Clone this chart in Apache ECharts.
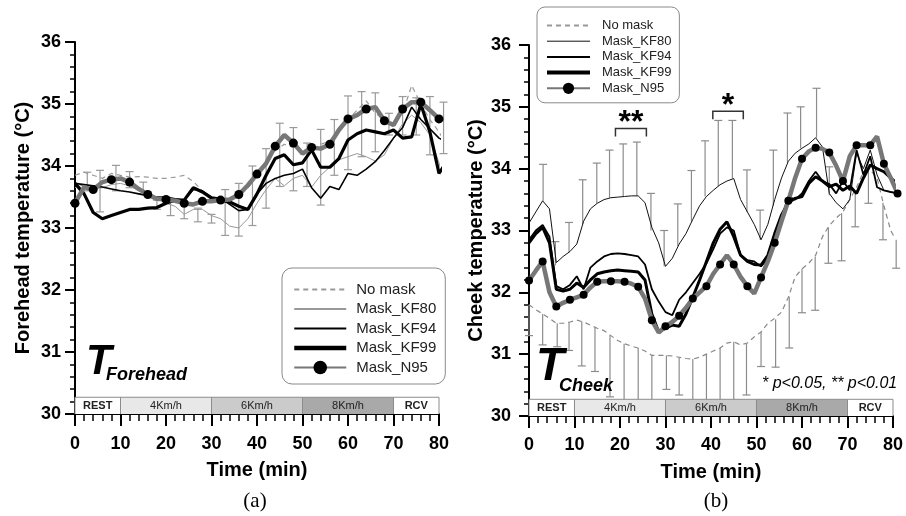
<!DOCTYPE html>
<html>
<head>
<meta charset="utf-8">
<script src="https://cdn.jsdelivr.net/npm/echarts@6/dist/echarts.min.js"></script>
<style>
html, body { margin: 0; padding: 0; background: #fff; }
#main { width: 906px; height: 516px; }
</style>
</head>
<body>
<div id="main"></div>
<script>
// two panels: (a) forehead, (b) cheek temperature vs time
var chart = echarts.init(document.getElementById('main'));
var FONT = 'Arial, "Liberation Sans", sans-serif';

// ---------- data, panel (a) : every 2 min ----------
var timeA = [0,2,4,6,8,10,12,14,16,18,20,22,24,26,28,30,32,34,36,38,40,42,44,46,48,50,52,54,56,58,60,62,64,66,68,70,72,74,76,78,80,82];
var noMaskA = [33.85,33.9,33.85,33.8,33.88,33.85,33.82,33.83,33.82,33.8,33.8,33.82,33.85,33.75,33.6,33.5,33.45,33.45,33.5,33.65,33.85,34.05,34.25,34.35,34.3,34.2,34.25,34.35,34.4,34.6,34.75,34.9,35.05,34.85,34.75,34.7,34.85,35.3,35.0,34.75,34.55,34.3];
var kf80A = [33.65,33.7,33.62,33.65,33.7,33.72,33.68,33.6,33.55,33.48,33.4,33.35,33.22,33.3,33.3,33.2,33.15,33.03,33.0,33.15,33.4,33.62,33.8,33.68,33.8,33.85,33.66,33.85,33.98,34.1,34.15,34.2,34.15,34.08,34.18,34.45,34.68,34.82,34.7,34.5,34.05,33.5];
var kf94A = [33.72,33.7,33.68,33.66,33.63,33.6,33.58,33.55,33.52,33.5,33.5,33.47,33.45,33.62,33.6,33.5,33.48,33.38,33.28,33.3,33.55,33.72,33.8,33.85,33.88,33.95,33.65,33.48,33.67,33.62,33.88,33.85,33.95,34.07,34.25,34.45,34.62,34.95,34.75,34.6,34.45,34.38];
var kf99A = [33.72,33.55,33.25,33.15,33.2,33.25,33.3,33.3,33.32,33.33,33.4,33.45,33.45,33.65,33.58,33.48,33.45,33.42,33.35,33.3,33.55,33.85,34.12,34.18,34.02,34.05,34.26,33.98,33.98,34.12,34.42,34.52,34.58,34.55,34.52,34.58,34.45,34.47,35.0,34.55,33.88,34.1];
var n95A = [33.4,33.66,33.62,33.74,33.78,33.8,33.74,33.63,33.54,33.47,33.46,33.44,33.4,33.38,33.43,33.43,33.45,33.46,33.54,33.69,33.87,34.04,34.32,34.5,34.37,34.2,34.3,34.28,34.35,34.58,34.76,34.82,34.92,34.95,34.73,34.66,34.92,35.03,35.03,34.9,34.76,34.8];
// error bars (a): low / high ends
var errTimeA = [2.7,5.5,9,12,15,18,21,24,27,30,33,36,39,42,45,48,51,54,57,60,63,66,69,72,75,78,81];
var errLowA  = [33.6,33.26,33.6,33.65,33.55,33.3,33.2,33.15,33.1,33.08,32.88,32.87,33.04,33.32,33.67,33.6,33.67,33.37,33.85,33.94,34.15,34.23,34.5,34.5,34.5,34.18,34.2];
var errHighA = [33.9,33.93,34.01,33.91,33.74,33.45,33.42,33.38,33.32,33.22,33.62,33.72,34.0,34.28,34.69,34.62,34.37,34.59,34.75,35.13,35.2,35.18,34.85,35.12,35.1,35.12,35.03];

// ---------- data, panel (b) : every 1.5 min ----------
var timeB = [0,1.5,3,4.5,6,7.5,9,10.5,12,13.5,15,16.5,18,19.5,21,22.5,24,25.5,27,28.5,30,31.5,33,34.5,36,37.5,39,40.5,42,43.5,45,46.5,48,49.5,51,52.5,54,55.5,57,58.5,60,61.5,63,64.5,66,67.5,69,70.5,72,73.5,75,76.5,78,79.5,81];
var noMaskB = [31.8,31.72,31.65,31.58,31.5,31.5,31.52,31.55,31.52,31.47,31.42,31.38,31.3,31.22,31.17,31.13,31.1,31.05,30.98,30.98,30.98,30.97,30.95,30.93,30.92,30.95,31.0,31.05,31.1,31.18,31.2,31.15,31.18,31.28,31.36,31.5,31.58,31.68,31.92,32.25,32.38,32.47,32.6,32.9,33.08,33.2,33.3,33.5,33.7,33.95,33.98,33.85,33.4,33.0,32.8];
var kf80B = [33.12,33.3,33.48,33.35,32.48,32.58,32.66,32.78,33.15,33.35,33.44,33.5,33.53,33.54,33.55,33.56,33.56,33.45,33.05,32.8,32.42,32.55,32.78,32.95,33.18,33.4,33.55,33.65,33.74,33.8,33.84,33.5,33.3,33.1,32.85,33.1,33.5,33.85,34.12,34.25,34.33,34.4,34.5,34.35,33.6,33.45,33.35,33.5,34.25,34.0,34.3,33.9,33.65,33.63,33.6];
var kf94B = [32.85,33.0,33.09,32.9,32.1,32.05,32.12,32.26,32.05,32.4,32.5,32.58,32.62,32.63,32.62,32.6,32.58,32.45,32.05,31.85,31.68,31.63,31.88,32.0,32.15,32.3,32.47,32.7,32.95,33.05,33.0,32.6,32.52,32.5,32.42,32.55,32.85,33.2,33.55,33.5,33.6,33.8,33.95,33.8,33.75,33.6,33.8,33.65,34.3,33.9,34.2,33.7,33.65,33.62,33.6];
var kf99B = [32.8,32.95,33.05,32.8,32.05,32.02,32.05,32.15,32.08,32.2,32.3,32.33,32.35,32.36,32.35,32.34,32.33,32.2,31.65,31.36,31.42,31.47,31.45,31.65,31.92,32.2,32.5,32.8,33.02,33.14,32.9,32.6,32.5,32.45,32.44,32.6,32.95,33.25,33.45,33.52,33.55,33.76,33.87,33.8,33.71,33.75,33.65,33.72,33.6,33.85,34.06,34.0,33.95,33.85,33.75];
var n95B = [32.19,32.35,32.5,32.0,31.77,31.83,31.88,31.92,31.96,32.08,32.17,32.18,32.18,32.18,32.17,32.14,32.09,31.9,31.55,31.35,31.45,31.52,31.62,31.75,31.9,32.0,32.1,32.3,32.45,32.6,32.45,32.25,32.1,31.98,32.24,32.5,32.8,33.15,33.48,33.85,34.16,34.28,34.34,34.32,34.26,34.05,33.8,34.2,34.38,34.38,34.38,34.52,34.08,33.85,33.6];
// error bars (b): drawn from the curve to the capped end
var errTimeB = [3.1,5.8,8.8,11.8,14.9,17.7,20.7,23.7,26.8,29.7,32.7,35.7,38.7,41.6,44.7,47.9,50.8,53.7,56.8,59.7,63.2,66,
                0,3,6.2,8.8,11.6,14.5,17.8,20.9,24,27,30.2,33,36,39,42,45,47.8,51,54.2,57.2,60,62.9,65.8,68.7,71.7,74.6,77.8,80.7];
var errFromB = [33.48,32.44,32.65,33.1,33.44,33.53,33.55,33.56,33.0,32.42,32.75,33.15,33.55,33.72,33.84,33.3,32.85,33.4,34.1,34.33,34.5,33.57,
                31.8,31.65,31.5,31.52,31.53,31.43,31.3,31.17,31.1,30.98,30.98,30.95,30.92,31.0,31.1,31.2,31.17,31.36,31.56,31.93,32.38,32.58,33.05,33.28,33.62,33.97,33.45,32.85];
var errToB   = [34.07,32.82,33.13,33.82,34.09,34.3,34.4,34.43,33.6,33.0,33.43,33.97,34.45,34.78,34.78,33.98,33.33,34.3,34.9,35.0,35.3,34.03,
                31.3,31.15,31.12,31.06,30.81,30.72,30.31,30.15,30.05,30.05,30.43,30.34,30.05,30.05,30.05,30.05,30.34,30.8,30.79,31.1,31.67,31.71,32.47,32.51,33.06,33.44,32.85,32.39];

// exercise phases shown as a strip along the time axis
var phaseStart  = [0, 10, 30, 50, 70];
var phaseEnd    = [10, 30, 50, 70, 80];
var phaseLabels = ['REST', '4Km/h', '6Km/h', '8Km/h', 'RCV'];
var phaseColors = ['#ffffff', '#e8e8e8', '#cbcbcb', '#a9a9a9', '#ffffff'];
var phaseBold   = [true, false, false, false, true];
var BAND_TOP = 30.27;

// significance brackets on panel (b)
var sigStart  = [19, 40.4];
var sigEnd    = [25.8, 47.1];
var sigTop    = [34.65, 34.93];
var sigLabels = ['**', '*'];

var names = ['No mask', 'Mask_KF80', 'Mask_KF94', 'Mask_KF99', 'Mask_N95'];

function lineSeries(name, panel, times, values, st, marked) {
    return {
        name: name,
        type: 'line',
        xAxisIndex: panel,
        yAxisIndex: panel,
        data: values.map(function (v, i) {
            if (marked) return { value: [times[i], v], symbol: i % 2 === 0 ? 'circle' : 'none' };
            return [times[i], v];
        }),
        symbol: marked ? 'circle' : 'none',
        symbolSize: marked ? st.size : 0,
        showSymbol: !!marked,
        showAllSymbol: true,
        lineStyle: { color: st.color, width: st.width, type: st.type || 'solid' },
        itemStyle: { color: marked ? '#000' : st.color, borderWidth: 0 },
        clip: false,
        silent: true,
        z: 3
    };
}

function errorBars(panel, ts, from, to, color, bothCaps) {
    return {
        type: 'custom',
        xAxisIndex: panel,
        yAxisIndex: panel,
        silent: true,
        z: 1,
        data: ts.map(function (t, i) { return [t, from[i], to[i]]; }),
        renderItem: function (params, api) {
            var a = api.coord([api.value(0), api.value(1)]);
            var b = api.coord([api.value(0), api.value(2)]);
            var half = 4;
            var st = { stroke: color, lineWidth: 1.2 };
            var kids = [
                { type: 'line', shape: { x1: a[0], y1: a[1], x2: b[0], y2: b[1] }, style: st },
                { type: 'line', shape: { x1: b[0] - half, y1: b[1], x2: b[0] + half, y2: b[1] }, style: st }
            ];
            if (bothCaps) kids.push({ type: 'line', shape: { x1: a[0] - half, y1: a[1], x2: a[0] + half, y2: a[1] }, style: st });
            return { type: 'group', children: kids };
        }
    };
}

function phaseBand(panel) {
    return {
        type: 'custom',
        xAxisIndex: panel,
        yAxisIndex: panel,
        silent: true,
        z: 2,
        data: phaseStart.map(function (s, i) { return [s, phaseEnd[i]]; }),
        renderItem: function (params, api) {
            var i = params.dataIndex;
            var p0 = api.coord([api.value(0), BAND_TOP]);
            var p1 = api.coord([api.value(1), 30]);
            return {
                type: 'group',
                children: [
                    { type: 'rect', shape: { x: p0[0], y: p0[1], width: p1[0] - p0[0], height: p1[1] - p0[1] },
                      style: { fill: phaseColors[i] } },
                    { type: 'polyline', shape: { points: [[p0[0], p1[1]], [p0[0], p0[1]], [p1[0], p0[1]], [p1[0], p1[1]]] },
                      style: { stroke: '#8c8c8c', lineWidth: 1, fill: null } },
                    { type: 'text', style: {
                        text: phaseLabels[i], x: (p0[0] + p1[0]) / 2, y: (p0[1] + p1[1]) / 2 + 0.5,
                        align: 'center', verticalAlign: 'middle', textAlign: 'center', textVerticalAlign: 'middle',
                        font: (phaseBold[i] ? 'bold ' : '') + '11px ' + FONT, fill: '#222' } }
                ]
            };
        }
    };
}

function xAxisOf(panel, labelMargin) {
    return {
        type: 'value', gridIndex: panel, min: 0, max: 80, interval: 10,
        axisLine: { show: true, onZero: false, lineStyle: { color: '#000', width: 2 } },
        axisTick: { show: true, inside: false, length: 12, lineStyle: { color: '#000', width: 2 } },
        minorTick: { show: true, splitNumber: 5, length: 7, lineStyle: { color: '#000', width: 1.5 } },
        splitLine: { show: false },
        axisLabel: { fontSize: 18, fontWeight: 'bold', color: '#000', fontFamily: FONT, margin: labelMargin },
        name: 'Time (min)', nameLocation: 'middle', nameGap: 46,
        nameTextStyle: { fontSize: 20, fontWeight: 'bold', color: '#000', fontFamily: FONT }
    };
}

function yAxisOf(panel, name, labelMargin, nameGap) {
    return {
        type: 'value', gridIndex: panel, min: 30, max: 36, interval: 1,
        axisLine: { show: true, onZero: false, lineStyle: { color: '#000', width: 2 } },
        axisTick: { show: true, inside: false, length: 10, lineStyle: { color: '#000', width: 2 } },
        minorTick: { show: true, splitNumber: 5, length: 5, lineStyle: { color: '#000', width: 1.5 } },
        splitLine: { show: false },
        axisLabel: { fontSize: 18, fontWeight: 'bold', color: '#000', fontFamily: FONT, margin: labelMargin },
        name: name, nameLocation: 'middle', nameGap: nameGap,
        nameTextStyle: { fontSize: 20, fontWeight: 'bold', color: '#000', fontFamily: FONT }
    };
}

// legend entries: only N95 keeps its circle marker
function legendItems(overrides) {
    return names.map(function (n) {
        var item = { name: n };
        if (n !== 'Mask_N95') item.itemStyle = { opacity: 0 };
        if (overrides[n]) item.lineStyle = overrides[n];
        return item;
    });
}

function label(x, y, text, font, align) {
    return { type: 'text', x: x, y: y, silent: true, z: 20,
        style: { text: text, font: font, fill: '#000',
            align: align || 'left', verticalAlign: 'middle',
            textAlign: align || 'left', textVerticalAlign: 'middle' } };
}

var option = {
    animation: false,
    backgroundColor: '#fff',
    grid: [
        { left: 75, top: 42, width: 364, height: 372 },
        { left: 529, top: 45, width: 370, height: 371 }
    ],
    xAxis: [xAxisOf(0, 21), xAxisOf(1, 20)],
    yAxis: [
        yAxisOf(0, 'Forehead temperature (\u00B0C)', 14, 42),
        yAxisOf(1, 'Cheek temperature (\u00B0C)', 18, 43)
    ],
    legend: [
        {
            data: legendItems({ 'Mask_KF99': { color: '#000', width: 4.5 } }),
            orient: 'vertical', left: 282, top: 268,
            itemWidth: 52, itemHeight: 17, itemGap: 4.5,
            padding: [14, 9, 9, 10],
            borderColor: '#8a8a8a', borderWidth: 1, borderRadius: 10,
            textStyle: { fontSize: 15, color: '#222', fontFamily: FONT, padding: [0, 0, 0, 5] },
            selectedMode: false
        },
        {
            data: legendItems({ 'Mask_KF80': { color: '#111', width: 1 }, 'Mask_KF99': { color: '#000', width: 4 } }),
            orient: 'vertical', left: 537, top: 7,
            itemWidth: 43, itemHeight: 14, itemGap: 2.7,
            padding: [12, 8, 8, 8],
            borderColor: '#8a8a8a', borderWidth: 1, borderRadius: 8,
            textStyle: { fontSize: 13, color: '#222', fontFamily: FONT, padding: [0, 0, 0, 7] },
            selectedMode: false
        }
    ],
    graphic: { elements: [
        label(86, 362, 'T', 'italic bold 42px ' + FONT),
        label(106, 375, 'Forehead', 'italic bold 18px ' + FONT),
        label(536, 367, 'T', 'italic bold 46px ' + FONT),
        label(559, 386, 'Cheek', 'italic bold 18px ' + FONT),
        label(762, 384, '* p<0.05, ** p<0.01', 'italic 16px ' + FONT),
        label(255, 501, '(a)', '21px "Liberation Serif", "DejaVu Serif", serif', 'center'),
        label(716, 501, '(b)', '21px "Liberation Serif", "DejaVu Serif", serif', 'center')
    ] },
    series: [
        errorBars(0, errTimeA, errLowA, errHighA, '#9a9a9a', true),
        phaseBand(0),
        lineSeries('No mask', 0, timeA, noMaskA, { color: '#999', width: 1.2, type: [5, 4] }),
        lineSeries('Mask_KF80', 0, timeA, kf80A, { color: '#999', width: 1 }),
        lineSeries('Mask_KF94', 0, timeA, kf94A, { color: '#000', width: 1.6 }),
        lineSeries('Mask_KF99', 0, timeA, kf99A, { color: '#000', width: 3.2 }),
        lineSeries('Mask_N95', 0, timeA, n95A, { color: '#777', width: 4.5, size: 9 }, true),

        errorBars(1, errTimeB, errFromB, errToB, '#8c8c8c', false),
        phaseBand(1),
        lineSeries('No mask', 1, timeB, noMaskB, { color: '#888', width: 1.2, type: [5, 4] }),
        lineSeries('Mask_KF80', 1, timeB, kf80B, { color: '#111', width: 1 }),
        lineSeries('Mask_KF94', 1, timeB, kf94B, { color: '#000', width: 1.8 }),
        lineSeries('Mask_KF99', 1, timeB, kf99B, { color: '#000', width: 3 }),
        lineSeries('Mask_N95', 1, timeB, n95B, { color: '#777', width: 4.5, size: 8 }, true),
        {
            type: 'custom', xAxisIndex: 1, yAxisIndex: 1, silent: true, z: 6,
            data: sigStart.map(function (s, i) { return [s, sigEnd[i], sigTop[i]]; }),
            renderItem: function (params, api) {
                var i = params.dataIndex;
                var a = api.coord([api.value(0), api.value(2)]);
                var b = api.coord([api.value(1), api.value(2)]);
                return { type: 'group', children: [
                    { type: 'polyline', shape: { points: [[a[0], a[1] + 8], [a[0], a[1]], [b[0], b[1]], [b[0], b[1] + 8]] },
                      style: { stroke: '#333', lineWidth: 1.5, fill: null } },
                    { type: 'text', style: { text: sigLabels[i], x: (a[0] + b[0]) / 2, y: a[1] - 5,
                        align: 'center', verticalAlign: 'middle', textAlign: 'center', textVerticalAlign: 'middle',
                        font: 'bold 32px ' + FONT, fill: '#000' } }
                ] };
            }
        }
    ]
};
chart.setOption(option);
</script>
</body>
</html>
